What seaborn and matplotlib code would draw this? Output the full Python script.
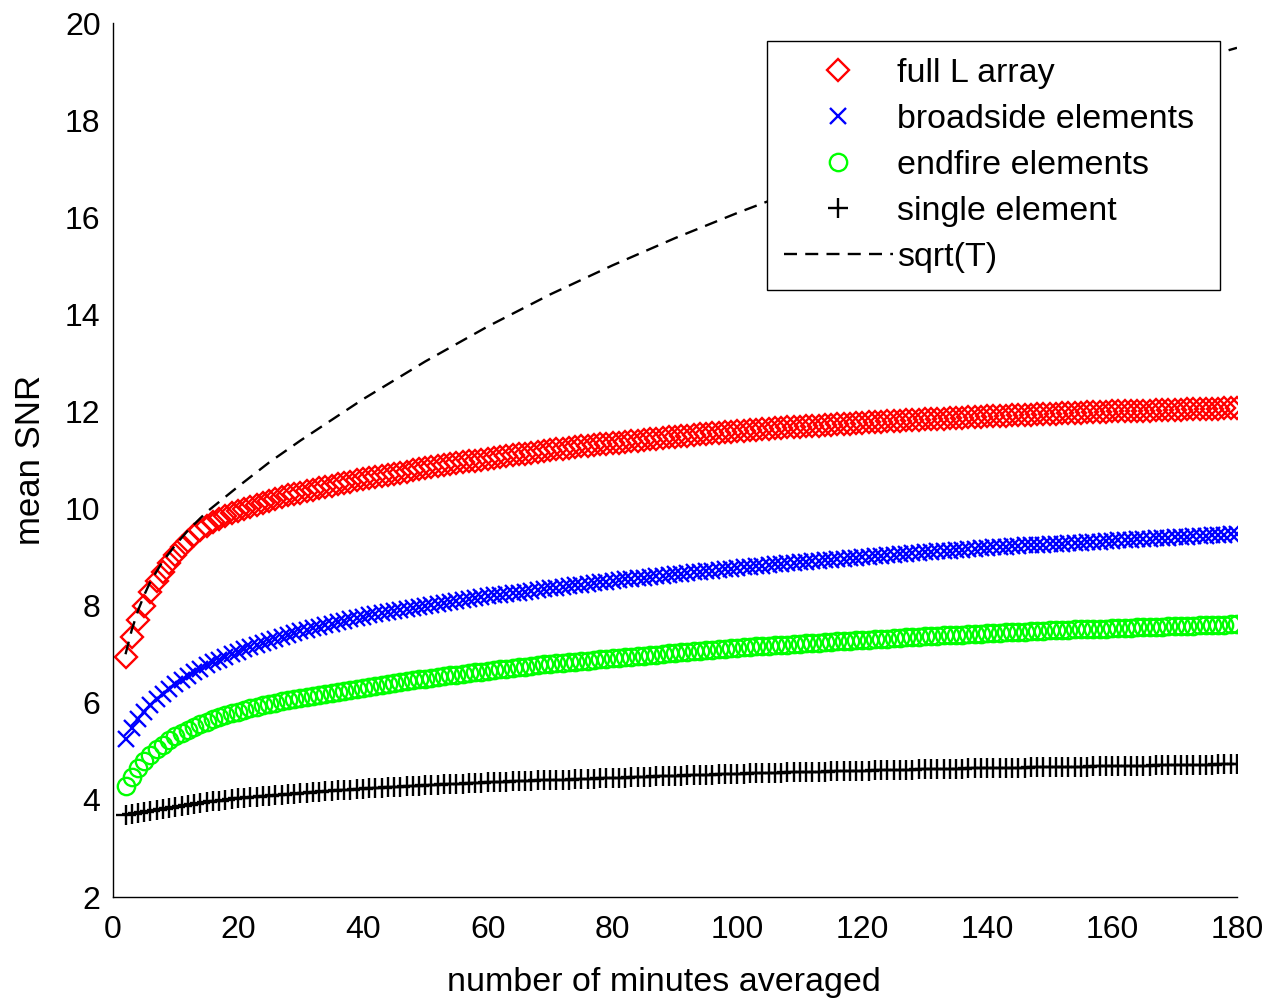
import numpy as np
import matplotlib
matplotlib.use("Agg")
import matplotlib.pyplot as plt
import seaborn as sns

# averaging length in minutes (one sample per minute)
minutes = list(range(2, 181))

full_L = [
    6.95, 7.35, 7.70, 8.00, 8.28, 8.50, 8.70, 8.88, 9.05, 9.20, 9.33, 9.45, 9.55, 9.64, 9.72, 9.79, 9.85, 9.90, 9.95,
    10.00, 10.04, 10.08, 10.12, 10.16, 10.20, 10.23, 10.27, 10.30, 10.33,
    10.36, 10.39, 10.42, 10.45, 10.47, 10.50, 10.53, 10.55, 10.58, 10.60,
    10.62, 10.65, 10.67, 10.70, 10.72, 10.74, 10.76, 10.79, 10.81, 10.83,
    10.85, 10.87, 10.89, 10.91, 10.93, 10.95, 10.97, 10.99, 11.01, 11.03,
    11.05, 11.07, 11.08, 11.10, 11.12, 11.13, 11.15, 11.17, 11.18, 11.20,
    11.22, 11.23, 11.25, 11.26, 11.28, 11.29, 11.30, 11.32, 11.33, 11.35,
    11.36, 11.37, 11.39, 11.40, 11.41, 11.43, 11.44, 11.45, 11.47, 11.48,
    11.49, 11.50, 11.51, 11.53, 11.54, 11.55, 11.56, 11.57, 11.58, 11.59,
    11.60, 11.61, 11.62, 11.63, 11.64, 11.65, 11.66, 11.67, 11.68, 11.69,
    11.70, 11.71, 11.71, 11.72, 11.73, 11.74, 11.75, 11.75, 11.76, 11.77,
    11.78, 11.78, 11.79, 11.80, 11.80, 11.81, 11.82, 11.82, 11.83, 11.84,
    11.84, 11.85, 11.85, 11.86, 11.87, 11.87, 11.88, 11.88, 11.89, 11.90,
    11.90, 11.91, 11.91, 11.92, 11.92, 11.93, 11.93, 11.94, 11.94, 11.95,
    11.95, 11.96, 11.96, 11.97, 11.97, 11.98, 11.98, 11.99, 11.99, 12.00,
    12.00, 12.01, 12.01, 12.02, 12.02, 12.02, 12.03, 12.03, 12.04, 12.04,
    12.04, 12.05, 12.05, 12.05, 12.06, 12.06, 12.06, 12.07, 12.07, 12.07,
]

broadside = [
    5.25, 5.48, 5.66, 5.82, 5.95, 6.07, 6.18, 6.28, 6.38, 6.47, 6.55, 6.63, 6.70, 6.77, 6.83, 6.89, 6.95, 7.00, 7.05,
    7.10, 7.15, 7.19, 7.24, 7.28, 7.32, 7.36, 7.40, 7.44, 7.47,
    7.50, 7.54, 7.57, 7.60, 7.63, 7.66, 7.69, 7.72, 7.74, 7.77,
    7.80, 7.82, 7.85, 7.87, 7.89, 7.91, 7.94, 7.96, 7.98, 8.00,
    8.02, 8.04, 8.06, 8.08, 8.10, 8.12, 8.14, 8.15, 8.17, 8.19,
    8.21, 8.22, 8.24, 8.26, 8.27, 8.29, 8.31, 8.32, 8.34, 8.36,
    8.37, 8.39, 8.40, 8.42, 8.43, 8.45, 8.46, 8.48, 8.49, 8.51,
    8.52, 8.54, 8.55, 8.56, 8.58, 8.59, 8.61, 8.62, 8.63, 8.65,
    8.66, 8.67, 8.69, 8.70, 8.71, 8.72, 8.74, 8.75, 8.76, 8.78,
    8.79, 8.80, 8.81, 8.82, 8.84, 8.85, 8.86, 8.87, 8.88, 8.90,
    8.91, 8.92, 8.93, 8.94, 8.95, 8.96, 8.97, 8.98, 8.99, 9.00,
    9.01, 9.02, 9.03, 9.04, 9.05, 9.06, 9.07, 9.08, 9.09, 9.10,
    9.11, 9.12, 9.13, 9.13, 9.14, 9.15, 9.16, 9.17, 9.18, 9.19,
    9.20, 9.20, 9.21, 9.22, 9.23, 9.24, 9.24, 9.25, 9.26, 9.27,
    9.28, 9.28, 9.29, 9.30, 9.30, 9.31, 9.32, 9.32, 9.33, 9.34,
    9.35, 9.35, 9.36, 9.37, 9.37, 9.38, 9.39, 9.39, 9.40, 9.41,
    9.41, 9.42, 9.43, 9.43, 9.44, 9.45, 9.46, 9.46, 9.47, 9.48,
]

endfire = [
    4.28, 4.48, 4.65, 4.80, 4.93, 5.04, 5.14, 5.23, 5.31, 5.38, 5.44, 5.50, 5.56, 5.61, 5.66, 5.70, 5.74, 5.78, 5.82,
    5.86, 5.89, 5.92, 5.95, 5.98, 6.00, 6.03, 6.05, 6.08, 6.10,
    6.12, 6.14, 6.16, 6.18, 6.20, 6.22, 6.24, 6.26, 6.28, 6.30,
    6.32, 6.34, 6.36, 6.38, 6.40, 6.42, 6.44, 6.46, 6.48, 6.50,
    6.52, 6.53, 6.55, 6.57, 6.58, 6.60, 6.61, 6.63, 6.64, 6.66,
    6.67, 6.69, 6.70, 6.72, 6.73, 6.74, 6.76, 6.77, 6.79, 6.80,
    6.81, 6.82, 6.84, 6.85, 6.86, 6.87, 6.88, 6.90, 6.91, 6.92,
    6.93, 6.94, 6.95, 6.96, 6.97, 6.98, 6.99, 7.01, 7.02, 7.03,
    7.04, 7.05, 7.06, 7.07, 7.08, 7.09, 7.10, 7.11, 7.12, 7.13,
    7.14, 7.15, 7.16, 7.16, 7.17, 7.18, 7.19, 7.20, 7.21, 7.22,
    7.23, 7.23, 7.24, 7.25, 7.26, 7.27, 7.27, 7.28, 7.29, 7.30,
    7.30, 7.31, 7.32, 7.32, 7.33, 7.34, 7.35, 7.35, 7.36, 7.37,
    7.37, 7.38, 7.39, 7.39, 7.40, 7.40, 7.41, 7.42, 7.42, 7.43,
    7.44, 7.44, 7.45, 7.45, 7.46, 7.46, 7.47, 7.48, 7.48, 7.49,
    7.49, 7.50, 7.50, 7.51, 7.51, 7.52, 7.52, 7.53, 7.53, 7.54,
    7.54, 7.55, 7.55, 7.56, 7.56, 7.56, 7.57, 7.57, 7.58, 7.58,
    7.58, 7.59, 7.59, 7.60, 7.60, 7.60, 7.61, 7.61, 7.62, 7.62,
]

single = [
    3.68, 3.71, 3.73, 3.76, 3.78, 3.80, 3.82, 3.84, 3.86, 3.88, 3.90, 3.92, 3.94, 3.95, 3.97, 3.98, 4.00, 4.01, 4.03,
    4.04, 4.05, 4.06, 4.08, 4.09, 4.10, 4.11, 4.12, 4.13, 4.14,
    4.15, 4.16, 4.17, 4.18, 4.19, 4.20, 4.20, 4.21, 4.22, 4.23,
    4.24, 4.24, 4.25, 4.26, 4.26, 4.27, 4.28, 4.28, 4.29, 4.30,
    4.30, 4.31, 4.32, 4.32, 4.33, 4.33, 4.34, 4.34, 4.35, 4.36,
    4.36, 4.37, 4.37, 4.38, 4.38, 4.39, 4.39, 4.40, 4.40, 4.41,
    4.41, 4.42, 4.42, 4.43, 4.43, 4.44, 4.44, 4.45, 4.45, 4.46,
    4.46, 4.46, 4.47, 4.47, 4.48, 4.48, 4.49, 4.49, 4.50, 4.50,
    4.50, 4.51, 4.51, 4.52, 4.52, 4.52, 4.53, 4.53, 4.54, 4.54,
    4.54, 4.55, 4.55, 4.55, 4.56, 4.56, 4.56, 4.57, 4.57, 4.57,
    4.58, 4.58, 4.58, 4.58, 4.59, 4.59, 4.59, 4.60, 4.60, 4.60,
    4.60, 4.61, 4.61, 4.61, 4.62, 4.62, 4.62, 4.62, 4.63, 4.63,
    4.63, 4.63, 4.64, 4.64, 4.64, 4.64, 4.65, 4.65, 4.65, 4.65,
    4.65, 4.66, 4.66, 4.66, 4.66, 4.66, 4.67, 4.67, 4.67, 4.67,
    4.67, 4.68, 4.68, 4.68, 4.68, 4.68, 4.69, 4.69, 4.69, 4.69,
    4.69, 4.70, 4.70, 4.70, 4.70, 4.70, 4.71, 4.71, 4.71, 4.71,
    4.71, 4.72, 4.72, 4.72, 4.72, 4.72, 4.73, 4.73, 4.73, 4.73,
]

# reference sqrt(T) growth curve
sqrt_minutes = [2, 3, 4, 5, 6, 8, 10, 12, 15, 20, 25, 30, 40, 50, 60, 70, 80,
                90, 100, 110, 120, 130, 140, 150, 160, 170, 180]
sqrt_curve = [7.00, 7.50, 7.90, 8.22, 8.50, 8.92, 9.25, 9.55, 9.93, 10.45, 10.95,
              11.40, 12.25, 13.03, 13.75, 14.41, 15.01, 15.57, 16.09, 16.58,
              17.05, 17.50, 17.93, 18.34, 18.74, 19.12, 19.49]

x_ticks = list(range(0, 181, 20))
y_ticks = list(range(2, 21, 2))

sns.set_theme(style="white")
plt.rcParams["font.family"] = ["Liberation Sans", "DejaVu Sans"]
plt.rcParams["text.color"] = "black"
plt.rcParams["axes.labelcolor"] = "black"

W, H = 1270, 998
fig = plt.figure(figsize=(W / 100, H / 100), dpi=100)
ax = fig.add_axes([0.0890, 0.1012, 0.8850, 0.8757])

series = [
    (full_L, "full L array", "#ff0000", "D", 11.0),
    (broadside, "broadside elements", "#0000ff", "x", 11.5),
    (endfire, "endfire elements", "#00ff00", "o", 12.5),
    (single, "single element", "#000000", "+", 14.0),
]
for values, name, color, marker, msize in series:
    sns.lineplot(x=minutes, y=values, ax=ax, label=name, color=color,
                 linestyle="", marker=marker, markersize=msize,
                 markerfacecolor="none", markeredgecolor=color,
                 markeredgewidth=1.7)

sns.lineplot(x=sqrt_minutes, y=sqrt_curve, ax=ax, label="sqrt(T)",
             color="black", linewidth=1.7, linestyle=(0, (5.5, 3.5)))

ax.set_xlim(0, 180)
ax.set_ylim(2, 20)
ax.set_xticks(x_ticks)
ax.set_yticks(y_ticks)
ax.set_xticklabels([str(t) for t in x_ticks])
ax.set_yticklabels([str(t) for t in y_ticks])

sns.despine(ax=ax, top=True, right=True)
for side in ("left", "bottom"):
    ax.spines[side].set_color("black")
    ax.spines[side].set_linewidth(1.0)

ax.tick_params(axis="both", direction="in", length=7, width=1.0,
               colors="black", labelsize=23)
ax.tick_params(axis="y", pad=9)
ax.tick_params(axis="x", pad=13)

ax.set_xlabel("number of minutes averaged", fontsize=24.5, labelpad=15.5,
              color="black")
ax.xaxis.label.set_x(0.4905)
ax.set_ylabel("mean SNR", fontsize=25, labelpad=13, color="black")

# legend box spanning a fixed width in the upper right of the figure
leg_left, leg_right, leg_top, leg_bottom = 767, 1220, 41, 280
leg = ax.legend(loc="upper left",
                bbox_to_anchor=(leg_left / W, 1 - leg_bottom / H,
                                (leg_right - leg_left) / W,
                                (leg_bottom - leg_top) / H),
                bbox_transform=fig.transFigure, mode="expand",
                borderaxespad=0.0, frameon=True, fancybox=False,
                framealpha=1.0, edgecolor="black", fontsize=24.5,
                handlelength=3.2, handletextpad=0.12, labelspacing=0.44,
                borderpad=0.5)
leg.get_frame().set_linewidth(1.0)
for txt in leg.get_texts():
    txt.set_color("black")

fig.savefig("out.png", dpi=100)
